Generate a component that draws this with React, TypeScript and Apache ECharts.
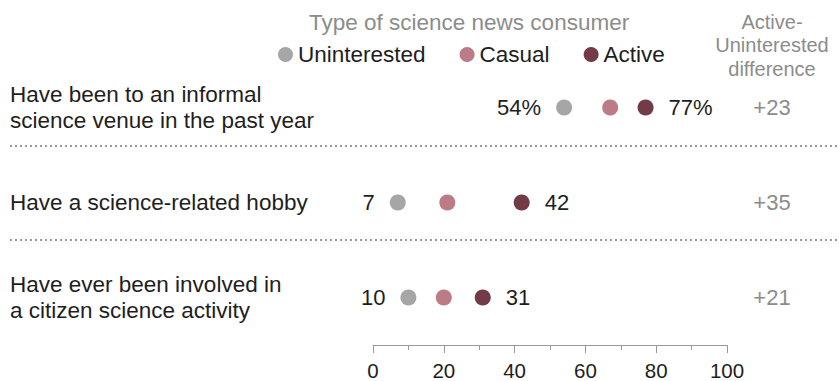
import { useEffect, useRef } from "react";
import * as echarts from "echarts";

// Rows of the dot plot (top to bottom)
const categories = [
  "Have been to an informal\nscience venue in the past year",
  "Have a science-related hobby",
  "Have ever been involved in\na citizen science activity",
];

// Percent of each consumer group, per row
const uninterested = [54, 7, 10];
const casual = [67, 21, 20];
const active = [77, 42, 31];

const seriesNames = ["Uninterested", "Casual", "Active"];
const xTicks = [0, 20, 40, 60, 80, 100];

const FONT = "'Liberation Sans', Arial, sans-serif";
const COLORS = ["#a6a6a6", "#bb7b87", "#733a48"];
const TEXT = "#1e1e1e";
const MUTED = "#8c8c8c";

export default function App() {
  const ref = useRef<HTMLDivElement>(null);

  useEffect(() => {
    document.body.style.margin = "0";
    const chart = echarts.init(ref.current!, null, { renderer: "svg" });

    const diffs = active.map((a, i) => `+${a - uninterested[i]}`);
    const fmt = (v: number, row: number) => (row === 0 ? `${v}%` : `${v}`);
    const points = (vals: number[]) => vals.map((v, i) => [v, i]);

    const valueLabel = (position: "left" | "right") => ({
      show: true,
      position,
      distance: 15,
      fontFamily: FONT,
      fontSize: 22,
      color: TEXT,
      formatter: (p: any) => fmt(p.value[0], p.value[1]),
    });

    chart.setOption({
      animation: false,
      textStyle: { fontFamily: FONT },
      title: {
        text: "Type of science news consumer",
        left: 309,
        top: 11,
        padding: 0,
        textStyle: { fontFamily: FONT, fontSize: 22.5, fontWeight: "normal", color: MUTED },
      },
      legend: {
        data: seriesNames,
        icon: "circle",
        itemWidth: 15,
        itemHeight: 15,
        itemGap: 34,
        left: 278,
        top: 43,
        padding: 0,
        selectedMode: false,
        textStyle: { fontFamily: FONT, fontSize: 22.5, color: TEXT, lineHeight: 22 },
      },
      grid: { left: 373, right: 113, top: 60, bottom: 35, containLabel: false },
      xAxis: {
        type: "value",
        min: xTicks[0],
        max: xTicks[xTicks.length - 1],
        interval: xTicks[1] - xTicks[0],
        axisLine: { show: true, lineStyle: { color: "#999", width: 1 } },
        axisTick: { show: true, length: 8, lineStyle: { color: "#999" } },
        minorTick: { show: true, splitNumber: 2, length: 5, lineStyle: { color: "#999" } },
        splitLine: { show: false },
        minorSplitLine: { show: false },
        axisLabel: { fontFamily: FONT, fontSize: 20.5, color: TEXT, margin: 15 },
      },
      yAxis: [
        {
          type: "category",
          data: categories,
          inverse: true,
          axisLine: { show: false },
          axisTick: { show: false },
          splitLine: { show: false },
          axisLabel: {
            align: "left",
            margin: 363,
            fontFamily: FONT,
            fontSize: 22.5,
            lineHeight: 26,
            color: TEXT,
          },
        },
        {
          type: "category",
          data: diffs,
          inverse: true,
          position: "right",
          axisLine: { show: false },
          axisTick: { show: false },
          splitLine: { show: false },
          axisLabel: {
            align: "center",
            margin: 45,
            fontFamily: FONT,
            fontSize: 22,
            color: MUTED,
          },
        },
      ],
      graphic: [
        {
          type: "line",
          shape: { x1: 10, y1: 146, x2: 840, y2: 146 },
          style: { stroke: "#999", lineWidth: 2, lineDash: [2, 3] },
        },
        {
          type: "line",
          shape: { x1: 10, y1: 240, x2: 840, y2: 240 },
          style: { stroke: "#999", lineWidth: 2, lineDash: [2, 3] },
        },
        {
          type: "text",
          x: 772,
          y: 10,
          style: {
            text: "Active-\nUninterested\ndifference",
            align: "center",
            verticalAlign: "top",
            fontFamily: FONT,
            fontSize: 20,
            lineHeight: 23.5,
            fill: MUTED,
          },
        },
      ],
      series: [
        {
          name: seriesNames[0],
          type: "scatter",
          symbolSize: 16,
          itemStyle: { color: COLORS[0], opacity: 1 },
          data: points(uninterested),
          label: valueLabel("left"),
        },
        {
          name: seriesNames[1],
          type: "scatter",
          symbolSize: 16,
          itemStyle: { color: COLORS[1], opacity: 1 },
          data: points(casual),
        },
        {
          name: seriesNames[2],
          type: "scatter",
          symbolSize: 16,
          itemStyle: { color: COLORS[2], opacity: 1 },
          data: points(active),
          label: valueLabel("right"),
        },
      ],
    });

    return () => chart.dispose();
  }, []);

  return <div ref={ref} style={{ width: 840, height: 381 }} />;
}
